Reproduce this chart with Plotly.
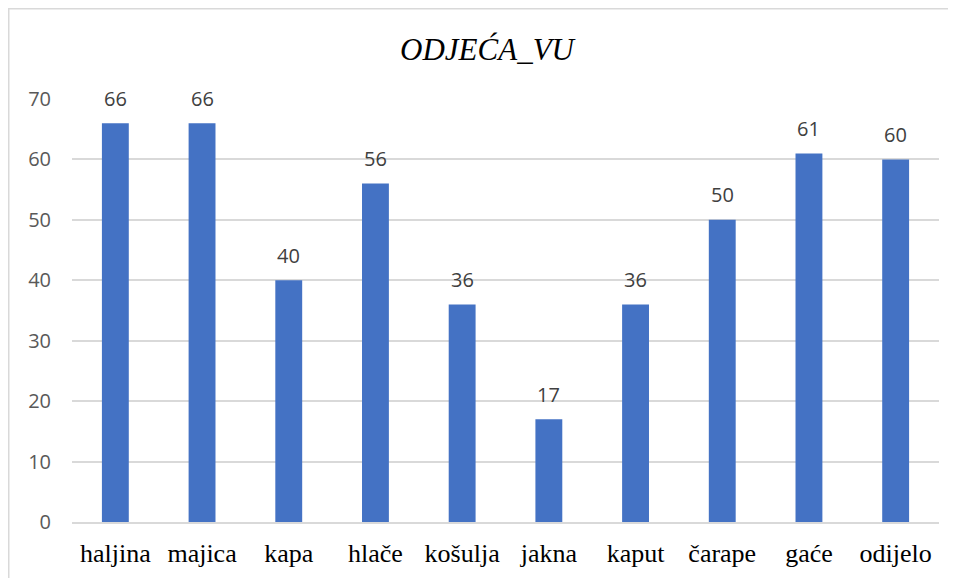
import plotly.graph_objects as go

categories = ["haljina", "majica", "kapa", "hlače", "košulja", "jakna", "kaput", "čarape", "gaće", "odijelo"]
values = [66, 66, 40, 56, 36, 17, 36, 50, 61, 60]
y_ticks = [0, 10, 20, 30, 40, 50, 60, 70]
title_text = "ODJEĆA_VU"

W, H = 948, 570
ML, MR, MT, MB = 64, 17, 91, 56
PW, PH = W - ML - MR, H - MT - MB

fig = go.Figure()
fig.add_trace(go.Bar(
    x=categories, y=values,
    marker=dict(color="#4472C4", line=dict(width=0)),
    hoverinfo="x+y",
))

for c, v in zip(categories, values):
    fig.add_annotation(
        x=c, y=v, text=str(v), showarrow=False,
        yanchor="middle", yshift=25,
        font=dict(family="Open Sans", size=20, color="#404040"),
    )

def px_to_paper_x(px):
    return (px - ML) / PW

def px_to_paper_y(py):
    return (H - MB - py) / PH

# outer chart border: only its top and left edges are visible in the reference
border = dict(color="#d9d9d9", width=1.5)
fig.add_shape(type="line", xref="paper", yref="paper",
              x0=px_to_paper_x(0), x1=px_to_paper_x(W),
              y0=px_to_paper_y(0.75), y1=px_to_paper_y(0.75),
              line=border, layer="below")
fig.add_shape(type="line", xref="paper", yref="paper",
              x0=px_to_paper_x(0.75), x1=px_to_paper_x(0.75),
              y0=px_to_paper_y(0), y1=px_to_paper_y(H),
              line=border, layer="below")

fig.update_layout(
    width=W, height=H,
    margin=dict(l=ML, r=MR, t=MT, b=MB, autoexpand=False),
    paper_bgcolor="white", plot_bgcolor="white",
    bargap=0.69,
    showlegend=False,
    title=dict(
        text=title_text, x=479 / W, xref="container",
        y=1 - 41 / H, yanchor="middle", xanchor="center",
        font=dict(family="Liberation Serif", size=31, color="#000000", style="italic"),
    ),
    xaxis=dict(
        showgrid=False, showline=True, linecolor="#d9d9d9", linewidth=1.5,
        ticks="", tickfont=dict(family="Liberation Serif", size=26, color="#000000"),
        ticklabelstandoff=7,
    ),
    yaxis=dict(
        range=[0, 70], tickvals=y_ticks,
        showgrid=True, gridcolor="#d9d9d9", gridwidth=1.5,
        zeroline=False, showline=False, ticks="",
        tickfont=dict(family="Open Sans", size=20, color="#595959"),
        ticklabelstandoff=20,
    ),
)

fig.write_html("out.html")
